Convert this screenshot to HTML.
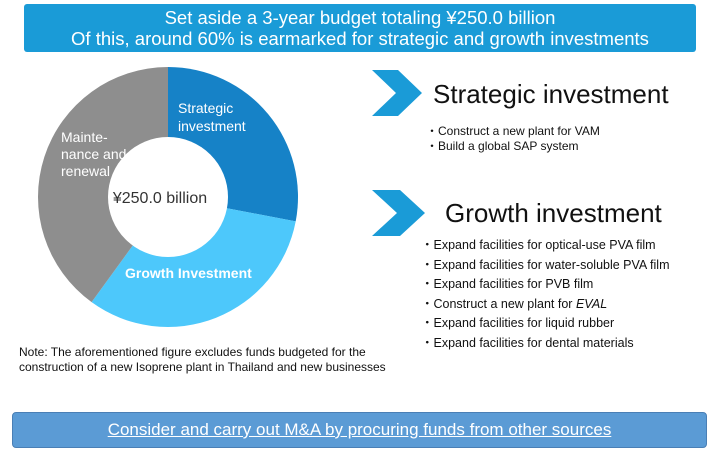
<!DOCTYPE html>
<html><head><meta charset="utf-8"><style>
body{margin:0;width:720px;height:454px;background:#fff;font-family:"Liberation Sans","DejaVu Sans",sans-serif;position:relative;overflow:hidden}
.a{position:absolute;white-space:nowrap}
</style></head><body>
<div class="a" style="left:24px;top:4px;width:672px;height:48px;background:#1a9bd7;border-radius:3px;color:#fff;font-size:18.5px;text-align:center;line-height:21px;padding-top:3px;box-sizing:border-box">
<div>Set aside a 3-year budget totaling ¥250.0 billion</div>
<div>Of this, around 60% is earmarked for strategic and growth investments</div>
</div>
<svg class="a" style="left:0;top:0" width="720" height="454">
<g id="slices"></g>
<circle cx="168" cy="197" r="60" fill="#fff"/>
<text x="160" y="203" text-anchor="middle" font-size="16" fill="#333">¥250.0 billion</text>
<g fill="#fff" font-size="14">
<text x="178" y="113"><tspan x="178">Strategic</tspan><tspan x="178" dy="18">investment</tspan></text>
<text x="61" y="142"><tspan x="61">Mainte-</tspan><tspan x="61" dy="17">nance and</tspan><tspan x="61" dy="17">renewal</tspan></text>
<text x="125" y="278" font-weight="bold">Growth Investment</text>
</g>
<polygon points="372,70 398,70 422,93 398,116 372,116 396,93" fill="#1a9bd7"/>
<polygon points="372,190 400,190 425,213 400,236 372,236 397,213" fill="#1a9bd7"/>
</svg>
<div class="a" style="left:433px;top:79px;font-size:26px;color:#111">Strategic investment</div>
<div class="a" style="left:426px;top:124px;font-size:12px;line-height:15px;color:#111">
<div>・Construct a new plant for VAM</div>
<div>・Build a global SAP system</div></div>
<div class="a" style="left:445px;top:198px;font-size:26px;color:#111">Growth investment</div>
<div class="a" style="left:421px;top:236px;font-size:12.5px;line-height:19.5px;color:#111">
<div>・Expand facilities for optical-use PVA film</div>
<div>・Expand facilities for water-soluble PVA film</div>
<div>・Expand facilities for PVB film</div>
<div>・Construct a new plant for <i>EVAL</i></div>
<div>・Expand facilities for liquid rubber</div>
<div>・Expand facilities for dental materials</div></div>
<div class="a" style="left:19px;top:345px;font-size:12px;line-height:14.5px;color:#111">Note: The aforementioned figure excludes funds budgeted for the<br>construction of a new Isoprene plant in Thailand and new businesses</div>
<div class="a" style="left:12px;top:412px;width:695px;height:36px;background:#5b9bd5;border:1px solid #4a7fb5;border-radius:4px;box-sizing:border-box;color:#fff;font-size:17px;text-align:center;line-height:34px;text-decoration:underline">Consider and carry out M&amp;A by procuring funds from other sources</div>
<script>
const categories=["Strategic investment","Growth investment","Maintenance and renewal"];
const values=[28,32,40];
const colors=["#1682c7","#4dc8fb","#8e8e8e"];
const g=document.getElementById('slices');
const cx=168,cy=197,R=130;
const total=values.reduce((a,b)=>a+b,0);
let start=0;
function pt(a){return [cx+R*Math.sin(a),cy-R*Math.cos(a)];}
values.forEach((v,i)=>{
const end=start+v/total*2*Math.PI;
const p0=pt(start),p1=pt(end);
const large=(end-start)>Math.PI?1:0;
const p=document.createElementNS('http://www.w3.org/2000/svg','path');
p.setAttribute('d',`M${cx},${cy}L${p0[0]},${p0[1]}A${R},${R} 0 ${large} 1 ${p1[0]},${p1[1]}Z`);
p.setAttribute('fill',colors[i]);


g.appendChild(p);
start=end;
});
</script>
</body></html>
